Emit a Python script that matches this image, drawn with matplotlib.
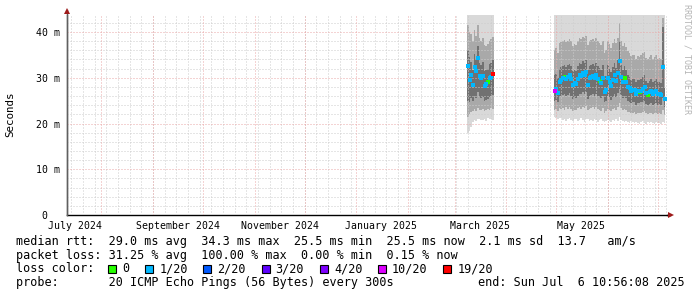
import datetime as dt

import matplotlib
matplotlib.use('Agg')
import matplotlib.pyplot as plt
import matplotlib.dates as mdates
import matplotlib.ticker as mticker
import matplotlib.transforms as mtrans
from matplotlib.lines import Line2D
from matplotlib.patches import Rectangle

# graph window: last 360 days
t_start = dt.datetime(2024, 7, 11, 10, 56, 8)
t_end = dt.datetime(2025, 7, 6, 10, 56, 8)

# rtt in ms, one value per day
# first block of data
day0_a = dt.datetime(2025, 3, 8, 12)
median_a = [32.6, 29.5, 30.5, 28.4, 32.3, 31.5, 34.3, 30.4, 29.9, 30.4, 28.3, 28.6, 29.0, 29.9, 30.2, 30.8]
loss_a = [1, 1, 1, 1, 1, 1, 1, 1, 1, 1, 1, 1, 0, 1, 1, 19]
min_a = [18.0, 18.4, 19.2, 20.4, 20.8, 20.6, 20.9, 21.0, 20.7, 20.8, 21.0, 20.6, 21.2, 20.9, 21.0, 20.8]
p10_a = [21.5, 22.0, 22.6, 22.8, 23.2, 22.8, 23.4, 23.0, 22.9, 23.1, 22.8, 22.9, 23.2, 23.0, 23.3, 23.1]
p25_a = [25.0, 24.8, 25.6, 24.9, 26.0, 25.6, 26.8, 25.9, 25.5, 25.8, 24.9, 25.1, 25.4, 25.8, 26.0, 26.3]
p75_a = [36.0, 34.5, 33.5, 31.6, 35.2, 34.2, 37.0, 33.3, 32.8, 33.4, 31.4, 31.6, 32.0, 32.9, 33.3, 33.9]
p90_a = [41.5, 40.0, 39.5, 38.0, 40.5, 39.2, 41.5, 38.6, 38.0, 38.6, 37.2, 37.0, 37.4, 38.0, 38.5, 39.0]

# second block of data
day0_b = dt.datetime(2025, 4, 29, 12)
median_b = [27.1, 27.5, 26.7, 29.1, 29.5, 29.9, 30.2, 29.7, 30.1, 30.5,
            29.7, 28.4, 28.9, 28.6, 29.8, 30.6, 30.4, 31.0, 30.6, 31.2,
            28.4, 29.9, 30.1, 30.4, 29.9, 30.6, 29.8, 29.3, 28.8, 29.9,
            26.8, 27.3, 30.0, 29.1, 28.2, 29.5, 30.5, 29.4, 31.0, 33.7,
            30.2, 29.0, 30.0, 29.1, 28.0, 27.7, 27.1, 27.3, 27.3, 26.4,
            27.0, 26.9, 27.2, 27.6, 27.9, 26.6, 26.2, 26.8, 27.1, 26.4,
            26.8, 27.1, 26.4, 26.5, 26.2, 32.4, 25.4]
loss_b = [10, 1, 1, 1, 1, 1, 0, 1, 1, 1,
          1, 1, 1, 1, 1, 1, 1, 1, 1, 1,
          1, 1, 1, 1, 1, 1, 1, 0, 1, 1,
          1, 1, 1, 1, 1, 1, 1, 1, 1, 1,
          1, 1, 0, 1, 1, 1, 1, 1, 1, 1,
          1, 0, 1, 1, 1, 1, 0, 1, 1, 1,
          1, 1, 1, 1, 1, 1, 1]
min_b = [21.4, 21.2, 21.0, 21.3, 21.1, 20.8, 21.0, 20.6, 20.9, 21.2,
         20.7, 20.5, 20.9, 21.0, 20.6, 20.8, 21.1, 20.7, 20.4, 20.9,
         21.0, 20.6, 20.8, 20.5, 20.9, 20.7, 20.4, 20.8, 21.0, 20.6,
         20.3, 20.5, 20.8, 20.6, 20.4, 20.7, 20.5, 20.9, 20.6, 21.5,
         20.8, 20.5, 20.3, 20.6, 20.4, 20.2, 20.5, 20.3, 20.1, 20.4,
         20.2, 20.0, 20.3, 20.5, 20.2, 20.0, 20.3, 20.1, 20.4, 20.2,
         20.0, 20.3, 20.1, 20.2, 20.0, 20.4, 20.1]
p10_b = [23.0, 23.2, 22.8, 23.4, 23.1, 23.3, 23.0, 23.5, 23.2, 23.6,
         23.1, 22.8, 23.0, 22.9, 23.3, 23.5, 23.2, 23.6, 23.4, 23.8,
         22.9, 23.2, 23.4, 23.5, 23.1, 23.6, 23.2, 23.0, 22.8, 23.3,
         22.4, 22.7, 23.2, 23.0, 22.8, 23.1, 23.4, 23.0, 23.6, 24.5,
         23.4, 23.0, 23.2, 22.9, 22.6, 22.5, 22.3, 22.4, 22.5, 22.1,
         22.3, 22.2, 22.4, 22.6, 22.7, 22.2, 22.0, 22.3, 22.4, 22.1,
         22.2, 22.4, 22.1, 22.2, 22.0, 23.0, 21.8]
p25_b = [25.0, 25.2, 24.8, 25.8, 26.0, 26.2, 26.4, 26.0, 26.3, 26.6,
         26.0, 25.4, 25.7, 25.5, 26.1, 26.5, 26.4, 26.8, 26.5, 26.9,
         25.3, 26.0, 26.2, 26.4, 26.0, 26.5, 26.0, 25.8, 25.5, 26.1,
         24.6, 24.9, 26.1, 25.7, 25.2, 25.9, 26.4, 25.8, 26.7, 27.5,
         26.3, 25.6, 26.0, 25.5, 25.0, 24.8, 24.5, 24.6, 24.6, 24.1,
         24.5, 24.4, 24.6, 24.8, 24.9, 24.2, 24.0, 24.3, 24.5, 24.1,
         24.3, 24.5, 24.1, 24.2, 24.0, 25.5, 23.6]
p75_b = [30.5, 30.8, 30.0, 32.0, 32.3, 32.6, 32.8, 32.4, 32.7, 33.0,
         32.5, 31.4, 31.8, 31.5, 32.6, 33.2, 33.0, 33.6, 33.2, 33.9,
         31.6, 32.6, 32.8, 33.0, 32.6, 33.3, 32.6, 32.2, 31.8, 32.7,
         30.0, 30.4, 32.8, 32.0, 31.2, 32.3, 33.2, 32.2, 33.8, 38.0,
         32.8, 31.8, 32.6, 31.6, 30.6, 30.2, 29.6, 29.8, 29.8, 29.0,
         29.6, 29.5, 29.8, 30.2, 30.5, 29.2, 28.8, 29.4, 29.7, 29.0,
         29.4, 29.7, 29.0, 29.1, 28.8, 41.0, 27.8]
p90_b = [36.0, 36.5, 35.5, 37.5, 37.8, 38.0, 38.2, 37.8, 38.0, 38.5,
         38.0, 37.0, 37.4, 37.2, 38.0, 38.6, 38.4, 39.0, 38.6, 39.2,
         37.2, 38.0, 38.2, 38.4, 38.0, 38.6, 38.0, 37.6, 37.2, 38.0,
         35.5, 36.0, 38.0, 37.4, 36.6, 37.6, 38.4, 37.5, 38.8, 42.0,
         38.0, 37.0, 37.6, 36.8, 35.8, 35.4, 34.8, 35.0, 35.0, 34.2,
         34.8, 34.6, 35.0, 35.4, 35.6, 34.4, 34.0, 34.6, 34.9, 34.2,
         34.6, 34.9, 34.2, 34.3, 34.0, 43.0, 33.0]

# slowest pings run off the top of the graph
max_rtt_clipped = 48.0

loss_labels = ['0', '1/20', '2/20', '3/20', '4/20', '10/20', '19/20']
loss_levels = [0, 1, 2, 3, 4, 10, 19]
loss_colors = ['#26ff00', '#00b8ff', '#0059ff', '#5e00ff', '#7e00ff', '#dd00ff', '#ff0000']

label_months = [dt.datetime(2024, 7, 16), dt.datetime(2024, 9, 16), dt.datetime(2024, 11, 16),
                dt.datetime(2025, 1, 16), dt.datetime(2025, 3, 16), dt.datetime(2025, 5, 16)]

stats_rtt = "median rtt:  29.0 ms avg  34.3 ms max  25.5 ms min  25.5 ms now  2.1 ms sd  13.7   am/s"
stats_loss = "packet loss: 31.25 % avg  100.00 % max  0.00 % min  0.15 % now"
probe_text = "probe:       20 ICMP Echo Pings (56 Bytes) every 300s"
end_text = "end: Sun Jul  6 10:56:08 2025"

MONO = 'DejaVu Sans Mono'
W, H = 697, 297

fig = plt.figure(figsize=(W / 100, H / 100), dpi=100)
fig.patch.set_facecolor('white')
ax = fig.add_axes([67 / W, (H - 215) / H, 600 / W, 200 / H])


def draw_block(day0, med, loss, lo, p10, p25, p75, p90):
    n = len(med)
    edges = [day0 + dt.timedelta(days=i) for i in range(n + 1)]
    ext = lambda v: list(v) + [v[-1]]
    ax.fill_between(edges, ext(lo), max_rtt_clipped, step='post', color='#d9d9d9', lw=0, zorder=1)
    ax.fill_between(edges, ext(p10), ext(p90), step='post', color='#a9a9a9', lw=0, zorder=1.1)
    ax.fill_between(edges, ext(p25), ext(p75), step='post', color='#717171', lw=0, zorder=1.2)
    centers = [day0 + dt.timedelta(days=i + 0.5) for i in range(n)]
    for level, color in zip(loss_levels, loss_colors):
        xs = [c for c, l in zip(centers, loss) if l == level]
        ys = [m for m, l in zip(med, loss) if l == level]
        if xs:
            ax.plot(xs, ys, ls='none', marker='s', ms=2.6, mew=0, color=color, zorder=4)


draw_block(day0_a, median_a, loss_a, min_a, p10_a, p25_a, p75_a, p90_a)
draw_block(day0_b, median_b, loss_b, min_b, p10_b, p25_b, p75_b, p90_b)

ax.set_xlim(t_start, t_end)
ax.set_ylim(0, 43.72)

# grid
dots = (0, (1, 2))
red_grid = '#eaa8a8'
ax.set_axisbelow(False)
ax.yaxis.set_major_locator(mticker.MultipleLocator(10))
ax.yaxis.set_minor_locator(mticker.MultipleLocator(2))
ax.xaxis.set_minor_locator(mdates.WeekdayLocator(byweekday=mdates.SU))
ax.grid(which='minor', axis='both', color='#cdcdcd', ls=dots, lw=0.72)
ax.grid(which='major', axis='y', color=red_grid, ls=dots, lw=0.72)
month = dt.datetime(2024, 8, 1)
while month < t_end:
    ax.axvline(month, color=red_grid, ls=dots, lw=0.72, zorder=2.6)
    month = dt.datetime(month.year + month.month // 12, month.month % 12 + 1, 1)

ax.set_xticks(label_months)
ax.xaxis.set_major_formatter(mdates.DateFormatter('%B %Y'))
ax.set_yticks([0, 10, 20, 30, 40])
ax.set_yticklabels(['0', '10 m', '20 m', '30 m', '40 m'])
ax.tick_params(which='both', length=0, labelsize=7.1, colors='black')
ax.tick_params(axis='x', pad=4)
ax.tick_params(axis='y', pad=5)
for lab in ax.get_xticklabels() + ax.get_yticklabels():
    lab.set_family(MONO)
zero = ax.get_yticklabels()[0]
zero.set_transform(zero.get_transform() + mtrans.ScaledTranslation(-0.13, 0, fig.dpi_scale_trans))

fig.text(10 / W, 1 - 114 / H, 'Seconds', rotation=90, ha='center', va='center',
         family=MONO, size=7.8)

# axes with arrows
for s in ['top', 'right']:
    ax.spines[s].set_visible(False)
ax.spines['left'].set_color('#606060')
ax.spines['bottom'].set_color('black')
ax.spines['left'].set_linewidth(1.0)
ax.spines['bottom'].set_linewidth(1.0)
fig.add_artist(Line2D([67 / W, 67 / W], [1 - 215 / H, 1 - 10 / H], color='#606060', lw=1.0))
fig.add_artist(Line2D([667 / W, 670 / W], [1 - 215 / H, 1 - 215 / H], color='black', lw=1.0))
fig.add_artist(Line2D([67 / W], [1 - 10.5 / H], marker='^', ms=5, color='#9e1a1a', mew=0))
fig.add_artist(Line2D([670.5 / W], [1 - 215 / H], marker='>', ms=5, color='#9e1a1a', mew=0))

fig.text(687.5 / W, 1 - 59 / H, 'RRDTOOL / TOBI OETIKER', rotation=270, ha='center', va='center',
         family=MONO, size=6.0, color='#b4b4b4')

# legend block
txt = dict(family=MONO, size=8.5, va='center', ha='left', color='black')
fig.text(16 / W, 1 - 241.5 / H, stats_rtt, **txt)
fig.text(16 / W, 1 - 255.2 / H, stats_loss, **txt)
fig.text(16 / W, 1 - 269 / H, 'loss color:', **txt)
fig.text(16 / W, 1 - 282.8 / H, probe_text, **txt)
fig.text(478 / W, 1 - 282.8 / H, end_text, **txt)

cw = 7.1
bx = 16 + 13 * cw
for lab, color in zip(loss_labels, loss_colors):
    fig.add_artist(Rectangle((bx / W, 1 - 273 / H), 8 / W, 8 / H, facecolor=color,
                             edgecolor='black', lw=0.8))
    fig.text((bx + 14) / W, 1 - 269 / H, lab, **txt)
    bx += (2 + len(lab) + 2.2) * cw

fig.savefig('out.png', dpi=100, facecolor='white')
